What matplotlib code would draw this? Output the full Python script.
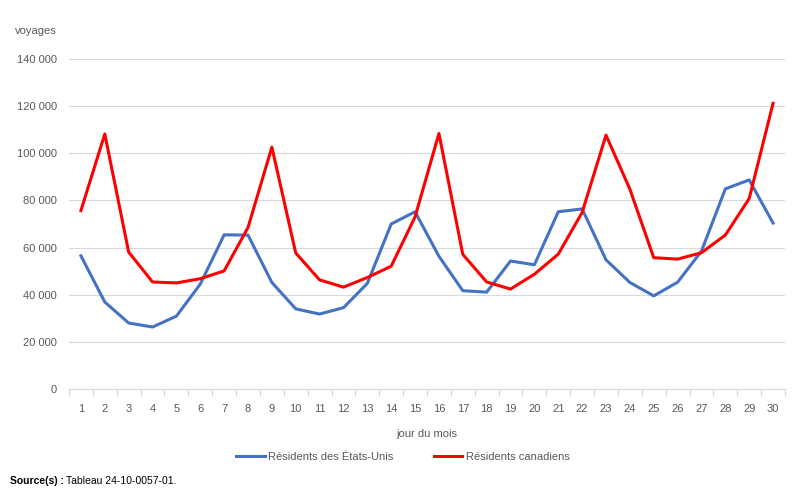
import matplotlib
matplotlib.use("Agg")
import matplotlib.pyplot as plt
from matplotlib.ticker import FuncFormatter, FixedLocator

days = list(range(1, 31))
us_residents = [56500, 36900, 28000, 26300, 30900, 44500, 65400, 65300, 45200, 34000,
                31800, 34500, 44800, 70000, 75200, 56300, 41700, 41100, 54300, 52700,
                75200, 76400, 54800, 45200, 39500, 45300, 58500, 84900, 88700, 70400]
ca_residents = [75700, 108200, 58100, 45400, 45000, 46800, 50100, 68500, 102600, 57700,
                46300, 43200, 47300, 52100, 73000, 108400, 57100, 45400, 42400, 48700,
                57200, 74900, 107700, 84800, 55700, 55100, 57800, 65300, 80800, 121200]
y_ticks = [0, 20000, 40000, 60000, 80000, 100000, 120000, 140000]

plt.rcParams['font.family'] = ['Liberation Sans', 'DejaVu Sans']
TXT = '#595959'

fig = plt.figure(figsize=(8.01, 4.98), dpi=100)
ax = fig.add_axes([69/801, 1-389/498, (785-69)/801, (389-59)/498])

ax.plot(days, us_residents, color='#4472C4', lw=2.2, label='Résidents des États-Unis',
        solid_joinstyle='round')
ax.plot(days, ca_residents, color='#FF0000', lw=2.2, label='Résidents canadiens',
        solid_joinstyle='round')

ax.set_xlim(0.5, 30.5)
ax.set_ylim(0, 140000)
ax.set_yticks(y_ticks)
ax.yaxis.set_major_formatter(FuncFormatter(lambda v, p: f"{int(v):,}".replace(',', ' ')))
ax.set_xticks(days)
ax.xaxis.set_minor_locator(FixedLocator([d + 0.5 for d in range(0, 31)]))
ax.tick_params(axis='x', which='major', length=0, pad=10.5, labelsize=8, labelcolor=TXT)
ax.tick_params(axis='x', which='minor', length=5, color='#d9d9d9', width=0.8)
ax.tick_params(axis='y', length=0, pad=8.8, labelsize=8, labelcolor=TXT)
ax.grid(axis='y', color='#d9d9d9', lw=0.8)
ax.set_axisbelow(True)
for s in ['top', 'right', 'left']:
    ax.spines[s].set_visible(False)
ax.spines['bottom'].set_color('#d9d9d9')
ax.spines['bottom'].set_linewidth(0.8)

ax.set_xlabel('jour du mois', fontsize=8, color=TXT, labelpad=11)
fig.text(15/801, 1-31/498, 'voyages', fontsize=8, color=TXT, ha='left', va='center')

leg = fig.legend(loc='center', bbox_to_anchor=(0.503, 1-457/498), ncol=2, frameon=False,
                 fontsize=8, handlelength=2.6, handletextpad=0.3, columnspacing=3.6)
for t in leg.get_texts():
    t.set_color(TXT)

fig.text(10/801, 1-481/498, 'Source(s) :', fontsize=7.5, fontweight='bold', color='black',
         ha='left', va='center')
fig.text(66/801, 1-481/498, 'Tableau 24-10-0057-01.', fontsize=7.5, color='black',
         ha='left', va='center')

fig.savefig('out.png', dpi=100)
